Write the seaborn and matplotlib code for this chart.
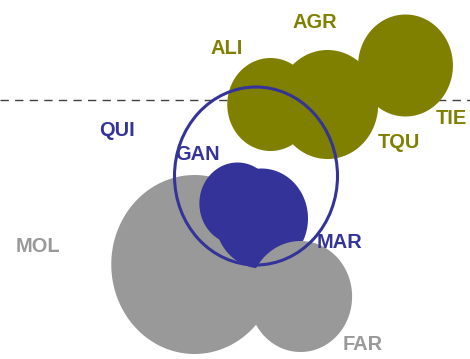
import numpy as np
import pandas as pd
import seaborn as sns
import matplotlib.pyplot as plt
from matplotlib.patches import Ellipse

# bubbles (drawn in this order): x, y, vertical radius in map units
bubble_group = ['olive', 'olive', 'olive', 'gray', 'blue', 'blue', 'gray']
bubble_x = [270, 327, 405, 194, 237, 261, 300]
bubble_y = [255, 255, 294, 95, 156, 141, 63]
bubble_r = [46.5, 54.5, 51, 89.5, 41, 50, 55.5]

# labels
label_text = ['ALI', 'AGR', 'TIE', 'TQU', 'QUI', 'GAN', 'MAR', 'MOL', 'FAR']
label_group = ['olive', 'olive', 'olive', 'olive', 'blue', 'blue', 'blue', 'gray', 'gray']
label_x = [227, 315, 451, 399, 117, 197, 340, 38, 363]
label_y = [311, 337, 240, 216, 228, 204, 117, 113, 15]

# outline ellipse: centre x, centre y, width, height
ellipse_box = [256, 183, 163, 178]
ref_line_y = 259

colors = {'olive': '#808000', 'blue': '#333399', 'gray': '#999999'}

sns.set_style('white')
plt.rcParams['font.family'] = ['Liberation Sans', 'DejaVu Sans']

fig = plt.figure(figsize=(4.7, 3.59), dpi=100)
ax = fig.add_axes([0, 0, 1, 1])
ax.set_xlim(0, 470)
ax.set_ylim(0, 359)
ax.axis('off')

ax.axhline(ref_line_y, color='#404040', lw=1, ls=(0, (6, 4.5)), zorder=0)

# bubbles are slightly narrower than tall
t = np.linspace(0, 2 * np.pi, 120)
oval = np.column_stack([0.93 * np.cos(t), np.sin(t)])

df = pd.DataFrame({'x': bubble_x, 'y': bubble_y, 'r': bubble_r, 'group': bubble_group})
# marker area in points^2 from radius in pixels (1 unit = 1 px at 100 dpi)
df['s'] = (2 * df['r'] * 72 / 100) ** 2
for i, row in df.iterrows():
    sns.scatterplot(x=[row['x']], y=[row['y']], s=row['s'], marker=oval,
                    color=colors[row['group']], linewidth=0, ax=ax,
                    legend=False, zorder=1 + i)

ax.add_patch(Ellipse((ellipse_box[0], ellipse_box[1]), ellipse_box[2], ellipse_box[3],
                     fill=False, edgecolor=colors['blue'], lw=2.2, zorder=20))

for txt, g, x, y in zip(label_text, label_group, label_x, label_y):
    ax.text(x, y, txt, color=colors[g], fontsize=14.4, fontweight='bold',
            ha='center', va='center', zorder=30)

fig.savefig('out.png', dpi=100)
